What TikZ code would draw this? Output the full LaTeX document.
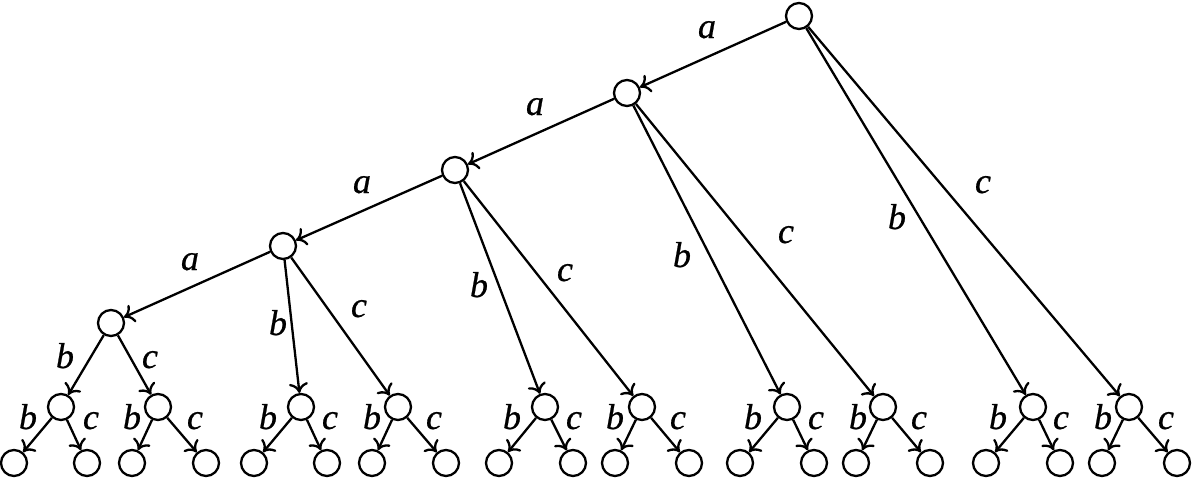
\documentclass[tikz,border=0pt]{standalone}
\usepackage{fontspec}
\setmainfont{Liberation Serif}
\newfontfamily\labfont{Liberation Serif}[FakeBold=0.6]
\usetikzlibrary{arrows.meta}
\tikzset{
  st/.style={circle,draw,line width=2.3pt,minimum size=26pt,inner sep=0pt},
  arr/.style={line width=2.3pt,-{To[length=10pt,width=19pt,line width=2.3pt]}},
  lab/.style={font=\labfont\fontsize{36}{42}\selectfont\itshape,anchor=base,inner sep=0pt}
}
\begin{document}
\begin{tikzpicture}[x=1pt,y=-1pt]
\useasboundingbox (0,0) rectangle (1192,480);
% main spine
\node[st] (r) at (799,16) {};
\node[st] (n1) at (627,93) {};
\node[st] (n2) at (455,170) {};
\node[st] (n3) at (283,246) {};
\node[st] (n4) at (111,323) {};
% level 5
\foreach \i/\x in {1/61,2/158,3/301,4/398,5/545,6/642,7/787,8/883,9/1033,10/1129}
  \node[st] (m\i) at (\x,407) {};
% leaves
\foreach \i/\l/\r in {1/14/87,2/132/206,3/254/327,4/372/446,5/499/573,6/615/689,7/740/814,8/856/930,9/986/1060,10/1102/1177}{
  \node[st] (l\i) at (\l,463) {};
  \node[st] (r\i) at (\r,463) {};
  \draw[arr] (m\i) -- (l\i);
  \draw[arr] (m\i) -- (r\i);
}
% spine edges
\draw[arr] (r) -- (n1);
\draw[arr] (r) -- (m9);
\draw[arr] (r) -- (m10);
\draw[arr] (n1) -- (n2);
\draw[arr] (n1) -- (m7);
\draw[arr] (n1) -- (m8);
\draw[arr] (n2) -- (n3);
\draw[arr] (n2) -- (m5);
\draw[arr] (n2) -- (m6);
\draw[arr] (n3) -- (n4);
\draw[arr] (n3) -- (m3);
\draw[arr] (n3) -- (m4);
\draw[arr] (n4) -- (m1);
\draw[arr] (n4) -- (m2);
% labels on spine
\node[lab] (ta1) at (707,38) {a};
\node[lab] (ta2) at (535,115) {a};
\node[lab] (ta3) at (362,193) {a};
\node[lab] (ta4) at (190,270) {a};
\node[lab] (tb0) at (897,229) {b};
\node[lab] (tc0) at (983,193) {c};
\node[lab] (tb1) at (682,267) {b};
\node[lab] (tc1) at (786,243) {c};
\node[lab] (tb2) at (479,297) {b};
\node[lab] (tc2) at (565,281) {c};
\node[lab] (tb3) at (278,335) {b};
\node[lab] (tc3) at (359,317) {c};
\node[lab] (tb4) at (65,368) {b};
\node[lab] (tc4) at (150,368) {c};
% labels at level 5
\foreach \i/\b/\c in {1/28/91,2/132/195,3/268/330,4/372/434,5/512/574,6/615/678,7/753/816,8/858/919,9/998/1061,10/1103/1166}{
  \node[lab] (sb\i) at (\b,429) {b};
  \node[lab] (sc\i) at (\c,429) {c};
}
\end{tikzpicture}
\end{document}
